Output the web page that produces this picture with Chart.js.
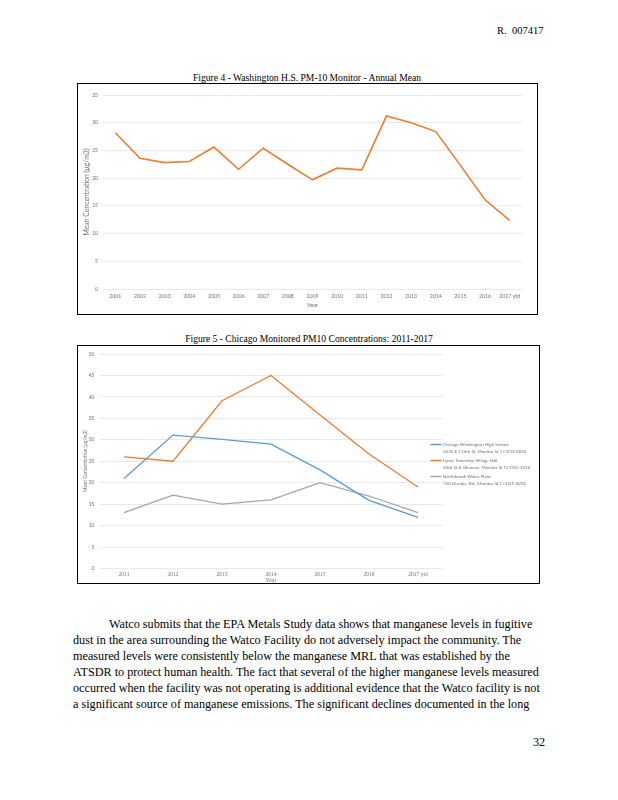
<!DOCTYPE html>
<html>
<head>
<meta charset="utf-8">
<script src="https://cdn.jsdelivr.net/npm/chart.js@4.4.1/dist/chart.umd.min.js"></script>
<style>
  html, body { margin: 0; padding: 0; background: #fff; }
  body { width: 618px; height: 800px; position: relative; overflow: hidden; font-family: "Liberation Serif", "Times New Roman", serif; color: #000; }
  .abs { position: absolute; white-space: nowrap; line-height: 1; }
  .box { position: absolute; box-sizing: border-box; border: 1.5px solid #000; overflow: hidden; background: #fff; }
  .box canvas { position: absolute; left: 0; top: 0; }
  .cap { font-size: 9.6px; transform: translateX(-50%); }
  .para { left: 73px; font-size: 12.2px; }
</style>
</head>
<body>

<div class="abs" style="left:497px; top:26px; font-size:10.5px;">R.&nbsp; 007417</div>

<div class="abs cap" style="left:307px; top:73px;">Figure 4 - Washington H.S. PM-10 Monitor - Annual Mean</div>
<div class="box" style="left:77px; top:83px; width:461px; height:232px;">
  <canvas id="washingtonChart" width="458" height="229"></canvas>
</div>

<div class="abs cap" style="left:309px; top:334px;">Figure 5 - Chicago Monitored PM10 Concentrations: 2011-2017</div>
<div class="box" style="left:77px; top:345px; width:463px; height:239px;">
  <canvas id="chicagoChart" width="460" height="240"></canvas>
</div>

<div class="abs para" style="left:109px; top:618px;">Watco submits that the EPA Metals Study data shows that manganese levels in fugitive</div>
<div class="abs para" style="top:634px;">dust in the area surrounding the Watco Facility do not adversely impact the community. The</div>
<div class="abs para" style="top:650px;">measured levels were consistently below the manganese MRL that was established by the</div>
<div class="abs para" style="top:666px;">ATSDR to protect human health. The fact that several of the higher manganese levels measured</div>
<div class="abs para" style="top:682px;">occurred when the facility was not operating is additional evidence that the Watco facility is not</div>
<div class="abs para" style="top:698px;">a significant source of manganese emissions. The significant declines documented in the long</div>

<div class="abs" style="left:533px; top:736px; font-size:12.2px;">32</div>

<script>
// Figure 4 - Washington H.S. annual mean
const washYears = [
    "2001", "2002", "2003", "2004", "2005", "2006", "2007", "2008", "2009",
    "2010", "2011", "2012", "2013", "2014", "2015", "2016", "2017 ytd",
];
const washMean = [28.2, 23.6, 22.8, 23.0, 25.6, 21.6, 25.4, 22.5, 19.7, 21.8, 21.5, 31.2, 30.0, 28.4, 22.3, 16.1, 12.4];
const washTicks = [0, 5, 10, 15, 20, 25, 30, 35];

// Figure 5 - Chicago monitors
const chiYears = ["2011", "2012", "2013", "2014", "2015", "2016", "2017 ytd"];
const chiWashington = [21.0, 31.1, 30.1, 29.0, 23.0, 15.9, 11.9];
const chiLyons = [26.0, 25.0, 39.1, 45.0, 35.8, 26.7, 19.0];
const chiNorthbrook = [13.0, 17.1, 15.0, 16.0, 20.0, 16.9, 13.0];
const chiLabels = [
    ["Chicago Washington High School", "3535 E 114th St, Monitor Id 17-031-0022"],
    ["Lyons Township Village Hall", "50th St & Glencoe, Monitor Id 17-031-1016"],
    ["Northbrook Water Plant", "750 Dundee Rd., Monitor Id 17-031-4201"],
];
const chiTicks = [0, 5, 10, 15, 20, 25, 30, 35, 40, 45, 50];

const ORANGE = "#ED7D31";
const BLUE = "#5B9BD5";
const GRAY = "#A5A5A5";
const TICK_COLOR = "#6f6f6f";
const GRID_COLOR = "#e3e3e3";
const SANS = "Lato, 'Open Sans', sans-serif";
const SERIF = "'Liberation Serif', serif";

// Legend at the right of the plot, two text lines per entry (like Excel)
const sideLegend = {
    id: "sideLegend",
    afterDraw(chart, args, opts) {
        if (!opts.show) return;
        const { ctx, chartArea } = chart;
        ctx.save();
        ctx.font = `${opts.size}px ${SANS}`;
        ctx.textBaseline = "middle";
        ctx.textAlign = "left";
        chart.data.datasets.forEach((ds, i) => {
            const y = opts.top + i * opts.step;
            ctx.strokeStyle = ds.borderColor;
            ctx.lineWidth = 1.5;
            ctx.beginPath();
            ctx.moveTo(chartArea.right - 12, y);
            ctx.lineTo(chartArea.right - 1, y);
            ctx.stroke();
            ctx.fillStyle = TICK_COLOR;
            ds.label.forEach((line, j) => {
                ctx.fillText(line, chartArea.right + 0.5, y + j * opts.lineGap);
            });
        });
        ctx.restore();
    },
};

function axisOptions(ticks, s) {
    return {
        x: {
            offset: true,
            grid: { display: false, drawTicks: false },
            border: { display: false },
            ticks: { color: TICK_COLOR, font: { family: s.xFont, size: s.xTickSize }, padding: s.xTickPad, maxRotation: 0, autoSkip: false },
            title: { display: true, text: "Year", color: TICK_COLOR, font: { family: s.xFont, size: 6 }, padding: { top: 0, bottom: s.xTitlePad } },
            afterFit: (scale) => { scale.height = s.xHeight; },
        },
        y: {
            min: ticks[0],
            max: ticks[ticks.length - 1],
            afterBuildTicks: (scale) => { scale.ticks = ticks.map((v) => ({ value: v })); },
            grid: { color: GRID_COLOR, lineWidth: 0.8, drawTicks: false },
            border: { display: false },
            ticks: { color: TICK_COLOR, font: { family: SANS, size: 5 }, padding: 5 },
            title: { display: true, text: "Mean Concentration (µg/m3)", color: TICK_COLOR, font: { family: SANS, size: s.yTitleSize }, padding: { top: s.yTitlePad, bottom: 0 } },
            afterFit: (scale) => { scale.width = s.yWidth; },
        },
    };
}

const washingtonChart = new Chart(document.getElementById("washingtonChart").getContext("2d"), {
    type: "line",
    data: {
        labels: washYears,
        datasets: [
            { label: "Annual Mean", data: washMean, borderColor: ORANGE, backgroundColor: ORANGE, borderWidth: 1.6, pointRadius: 0, tension: 0 },
        ],
    },
    options: {
        responsive: false,
        animation: false,
        layout: { padding: { top: 11, right: 14, left: 0, bottom: 0 } },
        plugins: { legend: { display: false }, tooltip: { enabled: false } },
        scales: axisOptions(washTicks, {
            yWidth: 25, xHeight: 24, yTitlePad: 4.5, yTitleSize: 6.8,
            xFont: SANS, xTickSize: 5.2, xTickPad: 4, xTitlePad: 4,
        }),
    },
});

const chicagoChart = new Chart(document.getElementById("chicagoChart").getContext("2d"), {
    type: "line",
    data: {
        labels: chiYears,
        datasets: [
            { label: chiLabels[0], data: chiWashington, borderColor: BLUE, backgroundColor: BLUE, borderWidth: 1.3, pointRadius: 0, tension: 0 },
            { label: chiLabels[1], data: chiLyons, borderColor: ORANGE, backgroundColor: ORANGE, borderWidth: 1.3, pointRadius: 0, tension: 0 },
            { label: chiLabels[2], data: chiNorthbrook, borderColor: GRAY, backgroundColor: GRAY, borderWidth: 1.3, pointRadius: 0, tension: 0 },
        ],
    },
    options: {
        responsive: false,
        animation: false,
        layout: { padding: { top: 7.5, right: 95.5, left: 0, bottom: 0 } },
        plugins: {
            legend: { display: false },
            tooltip: { enabled: false },
            sideLegend: { show: true, top: 98.5, step: 16, lineGap: 6.8, size: 4.5 },
        },
        scales: axisOptions(chiTicks, {
            yWidth: 21.5, xHeight: 17.5, yTitlePad: 5, yTitleSize: 4.8,
            xFont: SERIF, xTickSize: 5.5, xTickPad: 3, xTitlePad: 2,
        }),
    },
    plugins: [sideLegend],
});
</script>
</body>
</html>
